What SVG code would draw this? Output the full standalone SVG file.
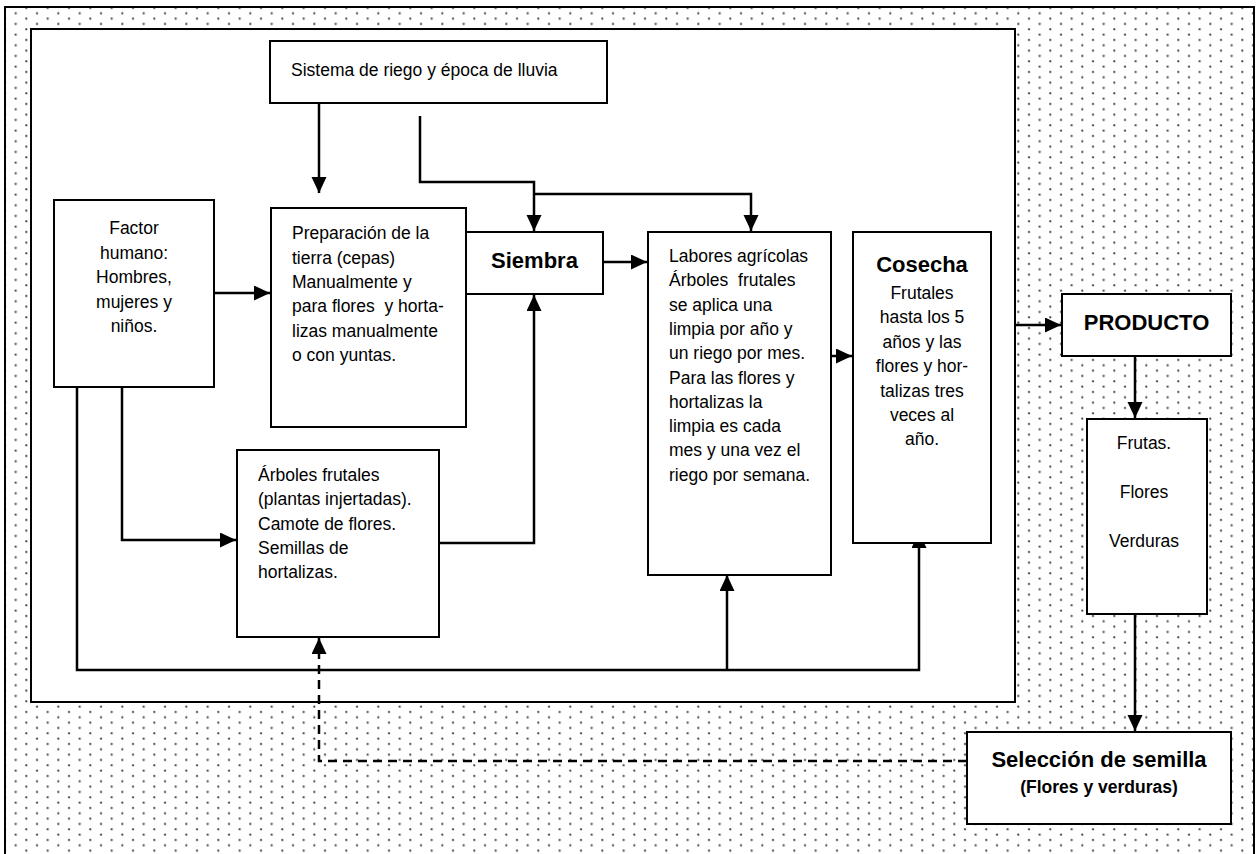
<svg xmlns="http://www.w3.org/2000/svg" width="1256" height="854" viewBox="0 0 1256 854">
<style>
.box{fill:#fff;stroke:#000;stroke-width:2}
.t{font-family:"Liberation Sans",Arial,sans-serif;font-size:17.5px;fill:#000}
.b{font-family:"Liberation Sans",Arial,sans-serif;font-size:22px;font-weight:bold;fill:#000}
.c{text-anchor:middle}
.ln{fill:none;stroke:#000;stroke-width:2.5;marker-end:url(#ah)}
.dash{stroke-dasharray:9 6}
</style>
<defs>
<pattern id="dots" patternUnits="userSpaceOnUse" width="21.333" height="10.667">
<circle cx="5" cy="8" r="1.1" fill="#444"/>
<circle cx="15.667" cy="2.667" r="1.1" fill="#444"/>
</pattern>
<marker id="ah" markerUnits="userSpaceOnUse" markerWidth="16" markerHeight="16" refX="16" refY="7.5" orient="auto">
<path d="M0,0 L16,7.5 L0,15 z" fill="#000"/>
</marker>
</defs>
<g id="background">
<rect x="5" y="7" width="1249" height="860" fill="#fff"/>
<rect x="5" y="7" width="1249" height="860" fill="url(#dots)" stroke="#000" stroke-width="2"/>
<rect x="31" y="29" width="984" height="673" class="box"/>
</g>
<g id="connectors">
<path class="ln" d="M319,96 V193"/>
<path class="ln" d="M420,116 V182 H534 V231"/>
<path class="ln" d="M534,194 H751 V231"/>
<path class="ln" d="M214,293 H270"/>
<path class="ln" d="M122,387 V540 H236"/>
<path class="ln" d="M77,387 V670 H919 V532"/>
<path class="ln" d="M727,670 V575"/>
<path class="ln" d="M439,543 H534 V295"/>
<path class="ln" d="M603,262 H647"/>
<path class="ln" d="M831,356 H852"/>
<path class="ln" d="M1015,325 H1061"/>
<path class="ln" d="M1135,356 V418"/>
<path class="ln" d="M1135,614 V731"/>
<path class="ln dash" d="M967,761 H319 V638"/>
</g>
<g id="sistema">
<rect x="270" y="41" width="337" height="62" class="box"/>
<text class="t" x="291" y="76">Sistema de riego y época de lluvia</text>
</g>
<g id="factor">
<rect x="54" y="200" width="160" height="187" class="box"/>
<text class="t c" x="134" y="234">Factor</text>
<text class="t c" x="134" y="258.5">humano:</text>
<text class="t c" x="134" y="283">Hombres,</text>
<text class="t c" x="134" y="307.5">mujeres y</text>
<text class="t c" x="134" y="332">niños.</text>
</g>
<g id="preparacion">
<rect x="271" y="208" width="195" height="219" class="box"/>
<text class="t" x="292" y="239">Preparación de la</text>
<text class="t" x="292" y="263.5">tierra (cepas)</text>
<text class="t" x="292" y="288">Manualmente y</text>
<text class="t" x="292" y="312" xml:space="preserve">para flores  y horta-</text>
<text class="t" x="292" y="336.5">lizas manualmente</text>
<text class="t" x="292" y="361">o con yuntas.</text>
</g>
<g id="siembra">
<rect x="466" y="232" width="137" height="62" class="box"/>
<text class="b c" x="534.5" y="268">Siembra</text>
</g>
<g id="labores">
<rect x="648" y="232" width="183" height="343" class="box"/>
<text class="t" x="669" y="262">Labores agrícolas</text>
<text class="t" x="669" y="286" xml:space="preserve">Árboles  frutales</text>
<text class="t" x="669" y="310.5">se aplica una</text>
<text class="t" x="669" y="334.5">limpia por año y</text>
<text class="t" x="669" y="359">un riego por mes.</text>
<text class="t" x="669" y="383.5">Para las flores y</text>
<text class="t" x="669" y="407.5">hortalizas la</text>
<text class="t" x="669" y="432">limpia es cada</text>
<text class="t" x="669" y="456">mes y una vez el</text>
<text class="t" x="669" y="480.5">riego por semana.</text>
</g>
<g id="cosecha">
<rect x="853" y="232" width="138" height="311" class="box"/>
<text class="b c" x="922" y="272">Cosecha</text>
<text class="t c" x="922" y="298.5">Frutales</text>
<text class="t c" x="922" y="323">hasta los 5</text>
<text class="t c" x="922" y="347.5">años y las</text>
<text class="t c" x="922" y="372">flores y hor-</text>
<text class="t c" x="922" y="396.5">talizas tres</text>
<text class="t c" x="922" y="421">veces al</text>
<text class="t c" x="922" y="445">año.</text>
</g>
<g id="arboles">
<rect x="237" y="450" width="202" height="187" class="box"/>
<text class="t" x="258" y="481">Árboles frutales</text>
<text class="t" x="258" y="505">(plantas injertadas).</text>
<text class="t" x="258" y="529.5">Camote de flores.</text>
<text class="t" x="258" y="553.5">Semillas de</text>
<text class="t" x="258" y="578">hortalizas.</text>
</g>
<g id="producto">
<rect x="1062" y="294" width="169" height="62" class="box"/>
<text class="b c" x="1146.5" y="330">PRODUCTO</text>
</g>
<g id="frutas">
<rect x="1087" y="419" width="120" height="195" class="box"/>
<text class="t c" x="1144" y="448.5">Frutas.</text>
<text class="t c" x="1144" y="497.5">Flores</text>
<text class="t c" x="1144" y="547">Verduras</text>
</g>
<g id="seleccion">
<rect x="967" y="732" width="264" height="92" class="box"/>
<text class="b c" x="1099" y="767">Selección de semilla</text>
<text class="t c" x="1099" y="793" font-weight="bold">(Flores y verduras)</text>
</g>
</svg>
